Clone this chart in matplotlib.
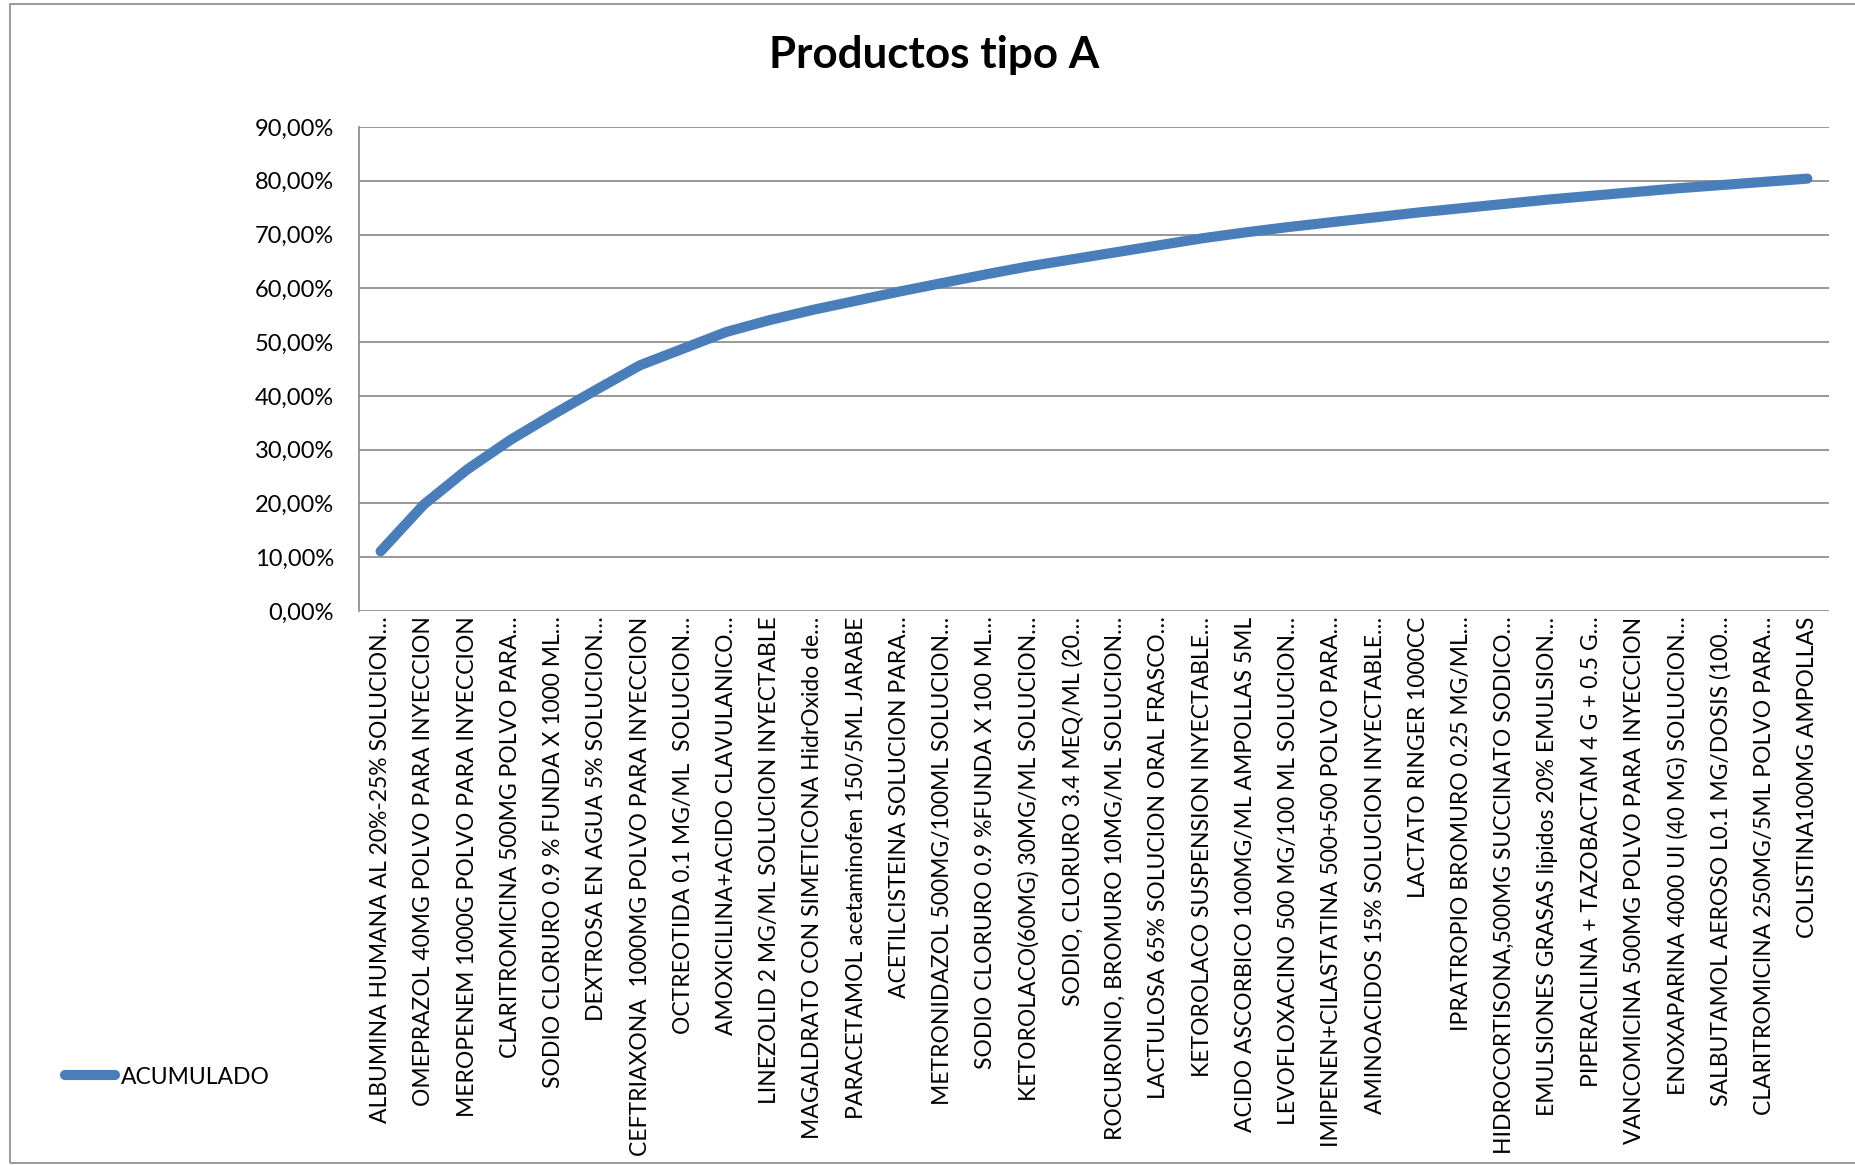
import matplotlib
matplotlib.use("Agg")
import matplotlib.pyplot as plt
from matplotlib.patches import Rectangle
from matplotlib.ticker import FuncFormatter, MultipleLocator

plt.rcParams['font.family'] = ['Lato', 'DejaVu Sans']

# Productos ordenados por consumo (clase A)
productos = [
    "ALBUMINA HUMANA AL 20%-25% SOLUCION…",
    "OMEPRAZOL 40MG POLVO PARA INYECCION",
    "MEROPENEM 1000G POLVO PARA INYECCION",
    "CLARITROMICINA 500MG POLVO PARA…",
    "SODIO CLORURO 0.9 % FUNDA X 1000 ML…",
    "DEXTROSA EN AGUA 5% SOLUCION…",
    "CEFTRIAXONA  1000MG POLVO PARA INYECCION",
    "OCTREOTIDA 0.1 MG/ML  SOLUCION…",
    "AMOXICILINA+ACIDO CLAVULANICO…",
    "LINEZOLID 2 MG/ML SOLUCION INYECTABLE",
    "MAGALDRATO CON SIMETICONA HidrOxido de…",
    "PARACETAMOL acetaminofen 150/5ML JARABE",
    "ACETILCISTEINA SOLUCION PARA…",
    "METRONIDAZOL 500MG/100ML SOLUCION…",
    "SODIO CLORURO 0.9 %FUNDA X 100 ML…",
    "KETOROLACO(60MG) 30MG/ML SOLUCION…",
    "SODIO, CLORURO 3.4 MEQ/ML (20…",
    "ROCURONIO, BROMURO 10MG/ML SOLUCION…",
    "LACTULOSA 65% SOLUCION ORAL FRASCO…",
    "KETOROLACO SUSPENSION INYECTABLE…",
    "ACIDO ASCORBICO 100MG/ML AMPOLLAS 5ML",
    "LEVOFLOXACINO 500 MG/100 ML SOLUCION…",
    "IMIPENEN+CILASTATINA 500+500 POLVO PARA…",
    "AMINOACIDOS 15% SOLUCION INYECTABLE…",
    "LACTATO RINGER 1000CC",
    "IPRATROPIO BROMURO 0.25 MG/ML…",
    "HIDROCORTISONA,500MG SUCCINATO SODICO…",
    "EMULSIONES GRASAS lipidos 20% EMULSION…",
    "PIPERACILINA + TAZOBACTAM 4 G + 0.5 G…",
    "VANCOMICINA 500MG POLVO PARA INYECCION",
    "ENOXAPARINA 4000 UI (40 MG) SOLUCION…",
    "SALBUTAMOL AEROSO L0.1 MG/DOSIS (100…",
    "CLARITROMICINA 250MG/5ML POLVO PARA…",
    "COLISTINA100MG AMPOLLAS",
]

# Porcentaje acumulado (%)
acumulado = [
    11.1, 19.8, 26.3, 31.8, 36.6, 41.2, 45.7, 48.8, 51.9, 54.1,
    56.0, 57.7, 59.4, 61.0, 62.6, 64.1, 65.4, 66.7, 68.0, 69.3,
    70.4, 71.4, 72.3, 73.2, 74.1, 74.9, 75.7, 76.5, 77.2, 77.9,
    78.6, 79.2, 79.8, 80.4,
]

serie = "ACUMULADO"
titulo = "Productos tipo A"

W, H = 1856, 1165
fig = plt.figure(figsize=(W / 100, H / 100), dpi=100)

grid_col = "#868686"
line_col = "#4a7ebb"

# chart frame
fig.add_artist(Rectangle((10 / W, 2 / H), 1.2, 1 - 6 / H, transform=fig.transFigure,
                         fill=False, edgecolor="#8a8a8a", lw=1.2))

ax = fig.add_axes([359 / W, 1 - 611 / H, (1829 - 359) / W, (611 - 127) / H])
x = list(range(len(productos)))
ax.plot(x, acumulado, color=line_col, lw=7.3, solid_capstyle="round",
        solid_joinstyle="round", label=serie)

ax.set_xlim(-0.5, len(productos) - 0.5)
ax.set_ylim(0, 90)
ax.yaxis.set_major_locator(MultipleLocator(10))
ax.yaxis.set_major_formatter(FuncFormatter(lambda v, p: f"{v:.2f}%".replace(".", ",")))
ax.grid(axis="y", color=grid_col, lw=1.2)
ax.set_axisbelow(True)
for s in ("top", "right", "bottom"):
    ax.spines[s].set_visible(False)
ax.spines["left"].set_color(grid_col)
ax.spines["left"].set_linewidth(1.2)

ax.set_xticks(x)
ax.set_xticklabels(productos, rotation=90, ha="center", va="top", fontsize=16.5)
ax.tick_params(axis="x", length=0, pad=4)
ax.tick_params(axis="y", length=0, pad=18, labelsize=17)

fig.text(934 / W, 1 - 55 / H, titulo, ha="center", va="center",
         fontsize=31.7, fontweight="bold")

fig.legend(loc="center left", bbox_to_anchor=(65 / W, 1 - 1077 / H), frameon=False,
           fontsize=16.5, handlelength=2.2, handletextpad=0.25, borderpad=0,
           borderaxespad=0)

fig.savefig("out.png", dpi=100)
